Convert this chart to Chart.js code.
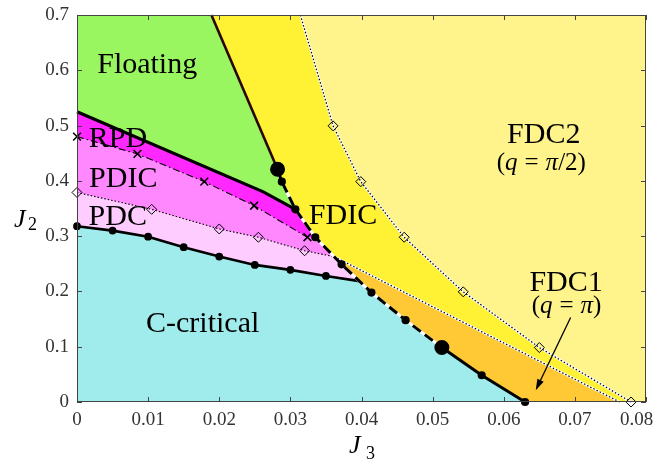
<!DOCTYPE html>
<html>
<head>
<meta charset="utf-8">
<script src="https://cdn.jsdelivr.net/npm/chart.js@4/dist/chart.umd.min.js"></script>
<style>
  html, body { margin: 0; padding: 0; background: #fff; }
  #wrap { width: 662px; height: 462px; }
</style>
</head>
<body>
<div id="wrap"><canvas id="phaseChart" width="662" height="462"></canvas></div>
<script>
// axis ranges and ticks
const J3_MAX = 0.08;
const J2_MAX = 0.7;
const xTicks = [0, 0.01, 0.02, 0.03, 0.04, 0.05, 0.06, 0.07, 0.08];
const xTickLabels = ['0', '0.01', '0.02', '0.03', '0.04', '0.05', '0.06', '0.07', '0.08\u2003'];
const yTicks = [0, 0.1, 0.2, 0.3, 0.4, 0.5, 0.6, 0.7];
const yTickLabels = ['0', '0.1', '0.2', '0.3', '0.4', '0.5', '0.6', '0.7'];

// phase boundaries (J3, J2)
const fdc2J3 = [0.0314, 0.0360, 0.0399, 0.0460, 0.0543, 0.0650, 0.0779];
const fdc2J2 = [0.700, 0.4995, 0.3986, 0.298, 0.1993, 0.0985, 0.000];
const fdc1J3 = [0.0362, 0.0563, 0.0763];
const fdc1J2 = [0.2627, 0.131, 0.000];
const floatJ3 = [0.0189, 0.0282];
const floatJ2 = [0.700, 0.421];
const dashJ3 = [0.0282, 0.0288, 0.0307, 0.0335, 0.0372, 0.0414, 0.0462, 0.0513];
const dashJ2 = [0.421, 0.3986, 0.3485, 0.298, 0.249, 0.198, 0.148, 0.0985];
const tailJ3 = [0.0513, 0.0569, 0.0630];
const tailJ2 = [0.0985, 0.0484, 0.000];
const rpdJ3 = [0, 0.0262, 0.0307];
const rpdJ2 = [0.525, 0.380, 0.3485];
const pdicJ3 = [0, 0.0085, 0.0179, 0.0249, 0.0324];
const pdicJ2 = [0.480, 0.4487, 0.3986, 0.355, 0.298];
const pdcJ3 = [0, 0.0105, 0.0200, 0.0255, 0.0320, 0.0362];
const pdcJ2 = [0.379, 0.3485, 0.313, 0.298, 0.2736, 0.2627];
const ccJ3 = [0, 0.005, 0.010, 0.015, 0.020, 0.025, 0.030, 0.035, 0.0397];
const ccJ2 = [0.318, 0.310, 0.299, 0.280, 0.263, 0.248, 0.239, 0.228, 0.2187];

// phase names and where they sit (J3, J2 of the text baseline centre)
const phaseNames = ['Floating', 'RPD', 'PDIC', 'PDC', 'FDIC', 'C-critical', 'FDC2', 'FDC1'];
const phaseJ3 = [0.00987, 0.00577, 0.0065, 0.00573, 0.0374, 0.01767, 0.06563, 0.06876];
const phaseJ2 = [0.5949, 0.462, 0.3894, 0.3201, 0.3219, 0.1268, 0.4681, 0.2011];

const pts = (xs, ys) => xs.map((x, i) => ({x: x, y: ys[i]}));
const last = a => a[a.length - 1];

const fdc2 = pts(fdc2J3, fdc2J2);
const fdc1 = pts(fdc1J3, fdc1J2);
const flo = pts(floatJ3, floatJ2);
const dash = pts(dashJ3, dashJ2);
const tail = pts(tailJ3, tailJ2);
const rpd = pts(rpdJ3, rpdJ2);
const pdic = pts(pdicJ3, pdicJ2);
const pdc = pts(pdcJ3, pdcJ2);
const cc = pts(ccJ3, ccJ2);

const serif = "'Liberation Serif', 'DejaVu Serif', serif";

function area(data, color, order) {
    return {data: data, backgroundColor: color, borderWidth: 0, pointRadius: 0,
        fill: 'start', order: order, tension: 0};
}

function line(data, opts) {
    return Object.assign({data: data, fill: false, tension: 0, clip: 10,
        pointRadius: 0, borderColor: '#000', backgroundColor: '#000'}, opts);
}

const datasets = [
    // filled regions, painted from the back
    area([{x: 0, y: J2_MAX}, {x: J3_MAX, y: J2_MAX}], '#fff38c', 90),
    area([{x: 0, y: J2_MAX}].concat(fdc2), '#fff234', 89),
    area(fdc1, '#ffc935', 88),
    area([{x: 0, y: J2_MAX}].concat(flo, dash.slice(1, 3)), '#99f560', 87),
    area(rpd.concat([dash[3]]), '#ff28ff', 86),
    area(pdic.concat([dash[3], last(pdc)]), '#ff88ff', 85),
    area(pdc.concat([dash[4], last(cc)]), '#ffccff', 84),
    area(cc.concat(dash.slice(5), tail.slice(1)), '#a0ecec', 83),

    // boundary lines
    line(fdc2, {borderColor: '#fff', borderWidth: 2.2, order: 20}),
    line(fdc2, {borderWidth: 1.2, borderDash: [1.5, 2], order: 19,
        pointStyle: 'rectRot', pointRadius: fdc2.map((p, i) => i === 0 ? 0 : 5),
        pointBorderColor: '#000', pointBorderWidth: 1, pointBackgroundColor: 'rgba(0,0,0,0)'}),
    line(fdc1, {borderColor: '#fff', borderWidth: 2.2, order: 20}),
    line(fdc1, {borderWidth: 1.2, borderDash: [1.5, 2], order: 19}),
    line(pdc, {borderWidth: 1.1, borderDash: [1.5, 2], order: 18,
        pointStyle: 'rectRot', pointRadius: pdc.map((p, i) => i === pdc.length - 1 ? 0 : 5),
        pointBorderColor: '#000', pointBorderWidth: 1, pointBackgroundColor: 'rgba(0,0,0,0)'}),
    line(pdic, {borderWidth: 1.1, borderDash: [7, 3, 1.5, 3], order: 17,
        pointStyle: 'crossRot', pointRadius: 5.5, pointBorderWidth: 1.5, pointBorderColor: '#000'}),
    line(rpd, {borderWidth: 3, order: 16}),
    line(flo, {borderColor: '#2a0606', borderWidth: 2.6, order: 15}),
    line(cc, {borderWidth: 2.6, order: 14,
        pointRadius: cc.map((p, i) => i === cc.length - 1 ? 0 : 2.6)}),
    line(dash, {borderColor: '#fff', borderWidth: 3, order: 13}),
    line(dash, {borderWidth: 3, borderDash: [10, 5], order: 12,
        pointRadius: dash.map((p, i) => (i === 0 || i === dash.length - 1) ? 6 : 2.6)}),
    line(tail, {borderWidth: 3, order: 11,
        pointRadius: tail.map((p, i) => i === 0 ? 0 : 2.6)})
];

function drawRuns(ctx, runs, cx, baseline) {
    let total = 0;
    runs.forEach(r => {
        ctx.font = r.font;
        r.w = ctx.measureText(r.text).width + 2 * (r.pad || 0);
        total += r.w;
    });
    let x = cx - total / 2;
    ctx.textAlign = 'left';
    runs.forEach(r => {
        ctx.font = r.font;
        ctx.fillText(r.text, x + (r.pad || 0), baseline);
        x += r.w;
    });
}

const decor = {
    id: 'decor',
    afterDraw(chart) {
        const {ctx, chartArea: a, scales: {x, y}} = chart;
        ctx.save();

        // frame and inward tick marks
        ctx.strokeStyle = '#444';
        ctx.lineWidth = 1;
        ctx.strokeRect(a.left + 0.5, a.top + 0.5, a.right - a.left - 1, a.bottom - a.top - 1);
        ctx.beginPath();
        xTicks.forEach(v => {
            const px = Math.round(x.getPixelForValue(v)) + 0.5;
            ctx.moveTo(px, a.bottom); ctx.lineTo(px, a.bottom - 5);
            ctx.moveTo(px, a.top); ctx.lineTo(px, a.top + 5);
        });
        yTicks.forEach(v => {
            const py = Math.round(y.getPixelForValue(v)) + 0.5;
            ctx.moveTo(a.left, py); ctx.lineTo(a.left + 5, py);
            ctx.moveTo(a.right, py); ctx.lineTo(a.right - 5, py);
        });
        ctx.stroke();

        // phase names
        ctx.fillStyle = '#000';
        ctx.textAlign = 'center';
        ctx.textBaseline = 'alphabetic';
        ctx.font = '30px ' + serif;
        phaseNames.forEach((name, i) => {
            ctx.fillText(name, x.getPixelForValue(phaseJ3[i]), y.getPixelForValue(phaseJ2[i]));
        });

        // wave vectors
        const up = '25px ' + serif, it = 'italic 25px ' + serif;
        drawRuns(ctx, [{text: '(', font: up}, {text: 'q', font: it}, {text: '=', font: up, pad: 7},
            {text: 'π', font: it}, {text: '/2)', font: up}],
            x.getPixelForValue(0.06528), y.getPixelForValue(0.4197));
        drawRuns(ctx, [{text: '(', font: up}, {text: 'q', font: it}, {text: '=', font: up, pad: 7},
            {text: 'π', font: it}, {text: ')', font: up}],
            x.getPixelForValue(0.06883), y.getPixelForValue(0.1607));

        // arrow pointing into FDC1
        const x0 = x.getPixelForValue(0.0694), y0 = y.getPixelForValue(0.1529);
        const x1 = x.getPixelForValue(0.0645), y1 = y.getPixelForValue(0.0212);
        const ang = Math.atan2(y1 - y0, x1 - x0);
        ctx.strokeStyle = '#000';
        ctx.lineWidth = 1.3;
        ctx.beginPath();
        ctx.moveTo(x0, y0);
        ctx.lineTo(x1 - 8 * Math.cos(ang), y1 - 8 * Math.sin(ang));
        ctx.stroke();
        ctx.beginPath();
        ctx.moveTo(x1, y1);
        ctx.lineTo(x1 - 11 * Math.cos(ang) + 3.5 * Math.sin(ang), y1 - 11 * Math.sin(ang) - 3.5 * Math.cos(ang));
        ctx.lineTo(x1 - 11 * Math.cos(ang) - 3.5 * Math.sin(ang), y1 - 11 * Math.sin(ang) + 3.5 * Math.cos(ang));
        ctx.closePath();
        ctx.fillStyle = '#000';
        ctx.fill();

        // axis titles J2 and J3
        ctx.fillStyle = '#000';
        ctx.textAlign = 'left';
        ctx.font = 'italic 26px ' + serif;
        ctx.fillText('J', 14, 227);
        ctx.fillText('J', 349, 453);
        ctx.font = '18px ' + serif;
        ctx.fillText('2', 28, 230);
        ctx.fillText('3', 366, 459);

        ctx.restore();
    }
};

const tickFont = {family: serif, size: 19};

new Chart(document.getElementById('phaseChart').getContext('2d'), {
    type: 'line',
    data: {datasets: datasets},
    options: {
        responsive: false,
        animation: false,
        events: [],
        layout: {padding: {top: 15, right: 16}},
        plugins: {
            legend: {display: false},
            tooltip: {enabled: false},
            filler: {drawTime: 'beforeDatasetsDraw'}
        },
        scales: {
            x: {
                type: 'linear', min: 0, max: J3_MAX,
                grid: {display: false, drawTicks: false},
                border: {display: false},
                afterBuildTicks: s => { s.ticks = xTicks.map(v => ({value: v})); },
                afterFit: s => { s.height = 60; s.paddingLeft = 0; s.paddingRight = 0; },
                ticks: {
                    font: tickFont, color: '#333', padding: 7, maxRotation: 0, autoSkip: false,
                    callback: v => xTickLabels[xTicks.indexOf(v)]
                }
            },
            y: {
                type: 'linear', min: 0, max: J2_MAX,
                grid: {display: false, drawTicks: false},
                border: {display: false},
                afterBuildTicks: s => { s.ticks = yTicks.map(v => ({value: v})); },
                afterFit: s => { s.width = 77; s.paddingTop = 0; s.paddingBottom = 0; },
                ticks: {
                    font: tickFont, color: '#333', padding: 8, autoSkip: false,
                    callback: v => yTickLabels[yTicks.indexOf(v)]
                }
            }
        }
    },
    plugins: [decor]
});
</script>
</body>
</html>
